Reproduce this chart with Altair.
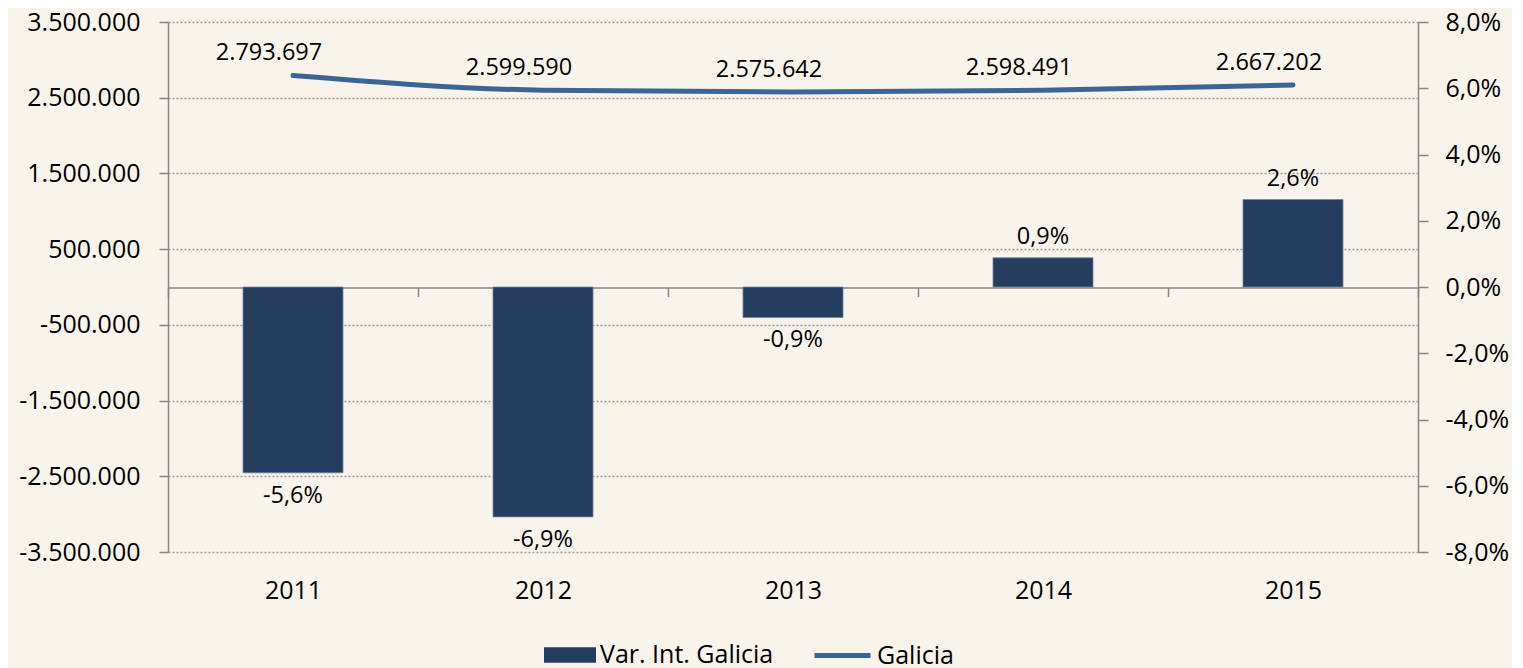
import altair as alt
import pandas as pd

years = ["2011", "2012", "2013", "2014", "2015"]
galicia = [2793697, 2599590, 2575642, 2598491, 2667202]
var_int = [-0.0561, -0.0694, -0.0092, 0.0088, 0.0264]
left_ticks = [-3500000, -2500000, -1500000, -500000, 500000, 1500000, 2500000, 3500000]
right_ticks = [-0.08, -0.06, -0.04, -0.02, 0.0, 0.02, 0.04, 0.06, 0.08]
bar_name = "Var. Int. Galicia"
line_name = "Galicia"

FONT = "Open Sans"
NAVY = "#253E5F"
BLUE = "#3A6596"
GRAY = "#868686"
BG = "#F8F4EC"

df = pd.DataFrame({
    "year": years,
    "galicia": galicia,
    "var": var_int,
    "bar_s": [bar_name] * len(years),
    "line_s": [line_name] * len(years),
})

x_axis = alt.Axis(
    title=None, orient="bottom", offset=-264.5, domainColor=GRAY, domainWidth=1.5,
    tickColor=GRAY, tickWidth=1.5, tickSize=9, tickBand="extent", labelPadding=282,
    labelFontSize=25, labelFont=FONT, labelColor="black", labelAngle=0, grid=False,
)
x_enc = alt.X("year:N", axis=x_axis, sort=years,
              scale=alt.Scale(paddingInner=0, paddingOuter=0))

left_axis = alt.Axis(
    orient="left", values=left_ticks, format=",.0f", title=None, grid=True,
    gridDash=[2, 2], gridColor="#9a9a9a", gridWidth=1.5, domainColor=GRAY,
    domainWidth=1.5, tickColor=GRAY, tickWidth=1.5, tickSize=9, labelPadding=19,
    labelFontSize=25, labelFont=FONT, labelColor="black",
)
left_scale = alt.Scale(domain=[-3500000, 3500000], nice=False, zero=False)

right_axis = alt.Axis(
    orient="right", values=right_ticks, format=".1%", title=None, grid=False,
    domainColor=GRAY, domainWidth=1.5, tickColor=GRAY, tickWidth=1.5, tickSize=10,
    labelPadding=17, labelFontSize=25, labelFont=FONT, labelColor="black",
)
right_scale = alt.Scale(domain=[-0.08, 0.08], nice=False, zero=False)

base = alt.Chart(df)

line = base.mark_line(strokeWidth=5, strokeCap="round", interpolate="monotone").encode(
    x=x_enc,
    y=alt.Y("galicia:Q", axis=left_axis, scale=left_scale),
    stroke=alt.Stroke(
        "line_s:N",
        scale=alt.Scale(domain=[line_name], range=[BLUE]),
        legend=alt.Legend(
            title=None, orient="none", legendX=644, legendY=603, padding=0,
            symbolType="stroke", symbolSize=3136, symbolStrokeWidth=5,
            labelFont=FONT, labelFontSize=25, labelColor="black", labelOffset=4,
            labelLimit=400,
        ),
    ),
)
line_text = base.mark_text(
    font=FONT, fontSize=23.5, color="black", dx=-24, dy=-22, baseline="middle"
).encode(
    x=x_enc,
    y=alt.Y("galicia:Q", axis=left_axis, scale=left_scale),
    text=alt.Text("galicia:Q", format=",.0f"),
)
left = alt.layer(line, line_text)

bars = base.mark_bar(
    stroke="#6f819a", strokeWidth=0.8, width=alt.RelativeBandSize(0.4)
).encode(
    x=x_enc,
    y=alt.Y("var:Q", axis=right_axis, scale=right_scale),
    fill=alt.Fill(
        "bar_s:N",
        scale=alt.Scale(domain=[bar_name], range=[NAVY]),
        legend=alt.Legend(
            title=None, orient="none", legendX=376, legendY=607, padding=0,
            symbolType="M-1,-0.3H1V0.3H-1Z", symbolSize=2704, symbolStrokeWidth=0,
            labelFont=FONT, labelFontSize=25, labelColor="black", labelOffset=4,
            labelLimit=400,
        ),
    ),
)
bar_text_pos = base.transform_filter("datum.var >= 0").mark_text(
    font=FONT, fontSize=23.5, color="black", dy=-21, baseline="middle"
).encode(
    x=x_enc,
    y=alt.Y("var:Q", axis=right_axis, scale=right_scale),
    text=alt.Text("var:Q", format=".1%"),
)
bar_text_neg = base.transform_filter("datum.var < 0").mark_text(
    font=FONT, fontSize=23.5, color="black", dy=23, baseline="middle"
).encode(
    x=x_enc,
    y=alt.Y("var:Q", axis=right_axis, scale=right_scale),
    text=alt.Text("var:Q", format=".1%"),
)
right = alt.layer(bars, bar_text_pos, bar_text_neg)

chart = alt.layer(left, right).resolve_scale(
    y="independent", fill="independent", stroke="independent"
).properties(
    width=1250,
    height=530,
    autosize=alt.AutoSizeParams(type="none"),
    padding={"left": 160, "top": 14, "right": 94, "bottom": 120},
    background=BG,
).configure_view(stroke=None)

chart.save(
    "out.html",
    embed_options={
        "renderer": "svg",
        "actions": False,
        "formatLocale": {
            "decimal": ",",
            "thousands": ".",
            "grouping": [3],
            "currency": ["", "\u00a0€"],
            "minus": "-",
        },
    },
)
